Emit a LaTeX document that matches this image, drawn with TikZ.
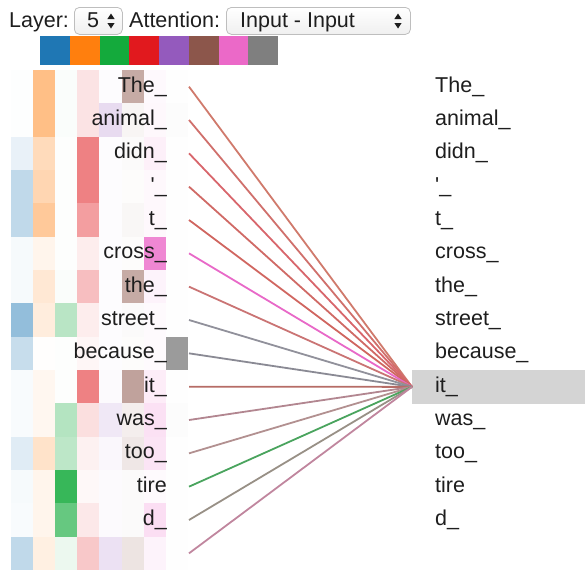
\documentclass[tikz,border=0pt]{standalone}
\usepackage{fontspec}
\setmainfont{Liberation Sans}
% head colours
\definecolor{h0}{RGB}{31,119,180}
\definecolor{h1}{RGB}{255,127,14}
\definecolor{h2}{RGB}{20,170,60}
\definecolor{h3}{RGB}{225,25,30}
\definecolor{h4}{RGB}{148,90,189}
\definecolor{h5}{RGB}{140,86,75}
\definecolor{h6}{RGB}{235,105,200}
\definecolor{h7}{RGB}{127,127,127}
% connector colours
\definecolor{lc0}{RGB}{208,122,108}
\definecolor{lc1}{RGB}{208,112,108}
\definecolor{lc2}{RGB}{216,102,108}
\definecolor{lc3}{RGB}{208,106,102}
\definecolor{lc4}{RGB}{208,102,96}
\definecolor{lc5}{RGB}{232,105,200}
\definecolor{lc6}{RGB}{202,116,116}
\definecolor{lc7}{RGB}{145,145,155}
\definecolor{lc8}{RGB}{138,138,148}
\definecolor{lc9}{RGB}{182,108,102}
\definecolor{lc10}{RGB}{178,134,144}
\definecolor{lc11}{RGB}{178,144,144}
\definecolor{lc12}{RGB}{74,164,94}
\definecolor{lc13}{RGB}{152,144,134}
\definecolor{lc14}{RGB}{192,134,158}
\definecolor{ink}{RGB}{30,30,30}
\definecolor{hl}{RGB}{212,212,212}
\definecolor{selborder}{RGB}{190,190,190}
\begin{document}
\begin{tikzpicture}[x=1pt,y=-1pt,
  font=\fontsize{21.5}{24}\selectfont, text=ink,
  selbox/.style={draw=selborder, line width=0.8, rounded corners=5,
    top color=white, bottom color=black!6, anchor=north west, inner sep=0,
    minimum height=27},
  lbl/.style={inner sep=0},
  link/.style={line width=1.8}]
\useasboundingbox (0,0) rectangle (585,571);

% header controls
\node[lbl, anchor=base west] (layerlbl) at (9,27) {Layer:};
\node[selbox, minimum width=48] (layersel) at (74,7) {};
\node[lbl, anchor=base west] (layerval) at (87,27) {5};
\node[lbl, anchor=base west] (attlbl) at (129,27) {Attention:};
\node[selbox, minimum width=184] (attsel) at (226,7) {};
\node[lbl, anchor=base west] (attval) at (240,27) {Input - Input};
\foreach \ax in {111,398}{
  \fill[ink] (\ax,13.5) -- (\ax+3.6,19) -- (\ax-3.6,19) -- cycle;
  \fill[ink] (\ax,28.5) -- (\ax+3.6,23) -- (\ax-3.6,23) -- cycle;
}

% head colour swatches
\foreach \c in {0,...,7}
  \fill[h\c] (40+29.75*\c,36) rectangle ++(29.75,29);

% attention heatmap, one column per head
\foreach \r/\vals in {
  0/{1,50,2,12,2,50,4,1},
  1/{1,50,2,12,22,6,5,2},
  2/{10,28,1,55,2,3,10,1},
  3/{28,32,1,55,2,2,5,1},
  4/{28,42,1,42,2,5,5,1},
  5/{4,8,1,8,2,2,80,1},
  6/{4,18,2,28,2,50,8,1},
  7/{48,14,30,8,2,3,3,1},
  8/{25,1,1,4,2,2,3,78},
  9/{3,6,1,55,3,55,12,1},
  10/{3,6,32,14,14,10,20,2},
  11/{14,22,28,6,5,14,18,1},
  12/{4,8,85,3,3,3,3,1},
  13/{3,8,65,10,3,3,22,1},
  14/{28,12,8,24,18,16,8,1}}{
  \foreach \v [count=\c from 0] in \vals
    \fill[h\c!\v!white] (11+22.1*\c,70+33.333*\r) rectangle ++(22.1,33.333);
}

% focus row on the right
\node[fill=hl, anchor=north west, inner sep=0, minimum width=173,
  minimum height=33.333] (focus) at (412,370) {};

% token labels
\foreach \i/\t in {0/The\_,1/animal\_,2/didn\_,3/\textquotesingle\_,4/t\_,
  5/cross\_,6/the\_,7/street\_,8/because\_,9/it\_,10/was\_,11/too\_,
  12/tire,13/d\_}{
  \node[lbl, anchor=base east] (l\i) at (167,92+33.333*\i) {\t};
  \node[lbl, anchor=base west] (r\i) at (435,92+33.333*\i) {\t};
}

% attention connectors
\foreach \i in {0,...,14}
  \coordinate (s\i) at (189,86.667+33.333*\i);
\foreach \i in {0,...,14}
  \draw[link, lc\i] (s\i) -- (focus.west);
\end{tikzpicture}
\end{document}
